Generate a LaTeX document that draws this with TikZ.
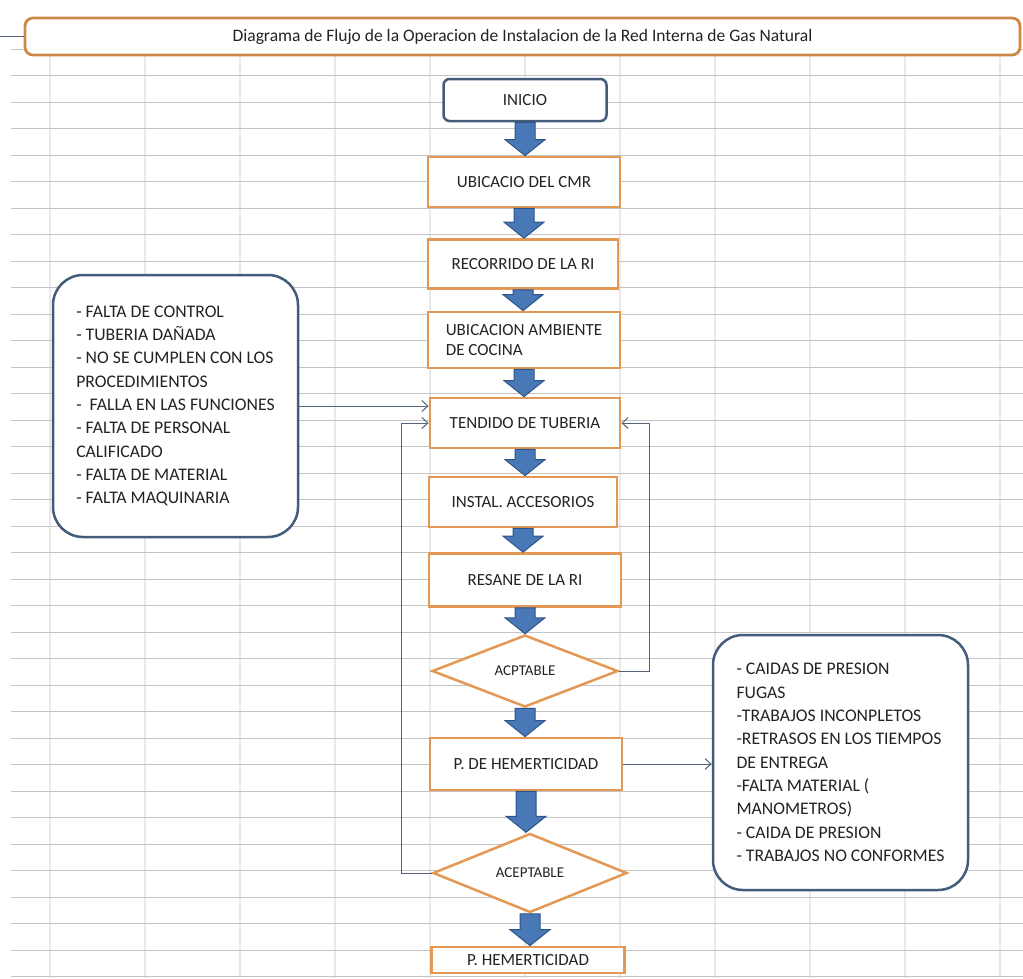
\documentclass[tikz,border=0pt]{standalone}
\usepackage{fontspec}
\setmainfont{Carlito}
\usetikzlibrary{shapes.geometric,arrows.meta,calc}
\definecolor{gridh}{RGB}{196,196,196}
\definecolor{gridv}{RGB}{233,233,233}
\definecolor{boxor}{RGB}{228,152,84}
\definecolor{titleor}{RGB}{205,135,72}
\definecolor{arrfill}{RGB}{72,120,182}
\definecolor{arrline}{RGB}{44,84,138}
\definecolor{slate}{RGB}{66,92,122}
\definecolor{conncol}{RGB}{85,100,120}
\definecolor{txt}{RGB}{35,35,35}
\newcommand\bxfont{\fontsize{17}{20}\selectfont}
\newcommand\lstfont{\fontsize{17.7}{23.3}\selectfont}
\newcommand\dmfont{\fontsize{15}{17}\selectfont}
\newcommand\ttlfont{\fontsize{17.5}{20}\selectfont}
\begin{document}
\begin{tikzpicture}[x=1pt,y=-1pt,
  every node/.style={text=txt},
  hline/.style={draw=gridh, line width=1.2pt},
  vline/.style={draw=gridv, line width=2pt},
  titlebox/.style={rectangle, rounded corners=8pt, draw=titleor, line width=2.8pt, fill=white, font=\ttlfont, inner sep=0pt},
  proc/.style={rectangle, draw=boxor, line width=2.8pt, fill=white, inner sep=2pt, font=\bxfont, align=left},
  startbox/.style={rectangle, rounded corners=6pt, draw=slate, line width=2.5pt, fill=white, font=\bxfont, inner sep=0pt},
  decision/.style={diamond, draw=boxor, line width=2.5pt, fill=white, inner sep=0pt, font=\dmfont},
  note/.style={rectangle, rounded corners=30pt, draw=slate, line width=2.5pt, fill=white, align=left, font=\lstfont, inner sep=0pt},
  conn/.style={draw=conncol, line width=1pt, -{Straight Barb[length=6pt,width=11pt]}},
  barrow/.style={fill=arrfill, draw=arrline, line width=1pt, line join=miter,
    to path={let \p1=(\tikztostart), \p2=(\tikztotarget) in
      (\x1-10pt,\y1) -- (\x1+10pt,\y1) -- (\x1+10pt,\y2+16pt) -- (\x1+20pt,\y2+16pt)
      -- (\x1,\y2) -- (\x1-20pt,\y2+16pt) -- (\x1-10pt,\y2+16pt) -- cycle}}
]
\useasboundingbox (0,0) rectangle (1023,978);
\fill[white] (0,0) rectangle (1023,978);
% spreadsheet grid
\foreach \x in {50,145,240,335,430,525,620,715,810,905,1000}
  \draw[vline] (\x,55) -- (\x,978);
\foreach \k in {0,...,35}
  \draw[hline] (11,49.2+26.5*\k) -- (1023,49.2+26.5*\k);

% title
\node[titlebox, minimum width=995pt, minimum height=37pt] (title) at (522.5,36.5)
  {Diagrama de Flujo de la Operacion de Instalacion de la Red Interna de Gas Natural};
\coordinate (tl) at (0,36.5);
\draw[draw=conncol, line width=1.2pt] (tl) -- (title.west);

% flow nodes
\node[startbox, minimum width=163pt, minimum height=42pt] (inicio) at (525,100) {INICIO};
\node[proc, minimum width=192pt, minimum height=50pt] (ubic) at (524,182) {UBICACIO DEL CMR};
\node[proc, minimum width=190pt, minimum height=49pt] (reco) at (523,264) {RECORRIDO DE LA RI};
\node[proc, minimum width=192pt, minimum height=56pt] (amb) at (524,340) {UBICACION AMBIENTE\\DE COCINA};
\node[proc, minimum width=190pt, minimum height=50pt] (tend) at (525,423) {TENDIDO DE TUBERIA};
\node[proc, minimum width=188pt, minimum height=50pt] (inst) at (523,502) {INSTAL. ACCESORIOS};
\node[proc, minimum width=192pt, minimum height=53pt] (resa) at (525,580) {RESANE DE LA RI};
\node[decision, minimum width=186pt, minimum height=72pt] (acpt) at (525,671) {ACPTABLE};
\node[proc, minimum width=192pt, minimum height=52pt] (phem) at (526,764) {P. DE HEMERTICIDAD};
\node[decision, minimum width=194pt, minimum height=79pt] (acep) at (530,873) {ACEPTABLE};
\node[proc, minimum width=193pt, minimum height=26pt] (pfin) at (528,960) {P. HEMERTICIDAD};

% callouts
\node[note, minimum width=245pt, minimum height=262pt] (lnote) at (175.5,406)
  {- FALTA DE CONTROL\\
   - TUBERIA DAÑADA\\
   - NO SE CUMPLEN CON LOS\\
   PROCEDIMIENTOS\\
   -\ \ FALLA EN LAS FUNCIONES\\
   - FALTA DE PERSONAL\\
   CALIFICADO\\
   - FALTA DE MATERIAL\\
   - FALTA MAQUINARIA};
\node[note, minimum width=255pt, minimum height=255pt] (rnote) at (840.5,762.5)
  {- CAIDAS DE PRESION\\
   FUGAS\\
   -TRABAJOS INCONPLETOS\\
   -RETRASOS EN LOS TIEMPOS\\
   DE ENTREGA\\
   -FALTA MATERIAL (\\
   MANOMETROS)\\
   - CAIDA DE PRESION\\
   - TRABAJOS NO CONFORMES};

% block arrows
\path[barrow] (inicio.south) to (ubic.north);
\path[barrow] (ubic.south) to (reco.north);
\path[barrow] (reco.south) to (amb.north);
\path[barrow] (amb.south) to (tend.north);
\path[barrow] (tend.south) to (inst.north);
\path[barrow] (inst.south) to (resa.north);
\path[barrow] (resa.south) to (acpt.north);
\path[barrow] (acpt.south) to (phem.north);
\path[barrow] (phem.south) to (acep.north);
\path[barrow] (acep.south) to (pfin.north);

% thin connectors
\draw[conn] (lnote.east) -- (lnote.east -| tend.west);
\draw[conn] (acpt.east) -- ++(30,0) |- (tend.east);
\draw[conn] (acep.west) -- ++(-30,0) |- (tend.west);
\draw[conn] (phem.east) -- (phem.east -| rnote.west);
\end{tikzpicture}
\end{document}
